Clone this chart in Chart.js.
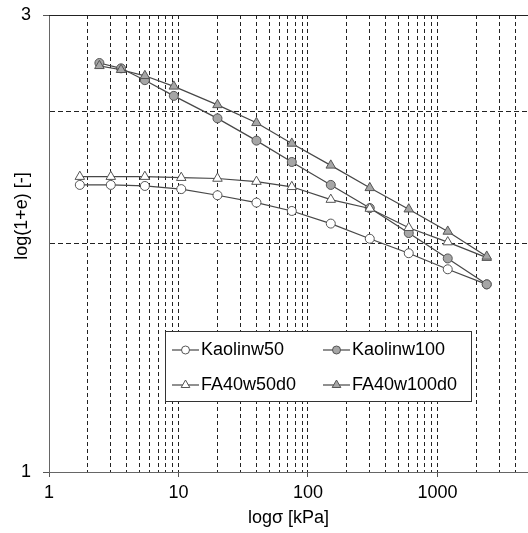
<!DOCTYPE html>
<html>
<head>
<meta charset="utf-8">
<script src="https://cdn.jsdelivr.net/npm/chart.js@4.4.1/dist/chart.umd.min.js"></script>
<style>
  html, body { margin: 0; padding: 0; background: #fff; }
  #wrap { position: relative; width: 528px; height: 533px; }
</style>
</head>
<body>
<div id="wrap"><canvas id="chart" width="528" height="533"></canvas></div>
<script>
const FONT = "'Liberation Sans', Arial, sans-serif";

// series names, in the legend order
const seriesNames = ["Kaolinw50", "Kaolinw100", "FA40w50d0", "FA40w100d0"];

// vertical stress [kPa]
const stressW50 = [1.73, 3, 5.5, 10.5, 20, 40, 75, 150, 300, 600, 1200, 2400];
const stressW100 = [2.45, 3.6, 5.5, 9.2, 20, 40, 75, 150, 300, 600, 1200, 2400];

// 1+e
const kaolinW50 = [1.994, 1.994, 1.989, 1.974, 1.945, 1.911, 1.873, 1.817, 1.752, 1.692, 1.628, 1.570];
const kaolinW100 = [2.673, 2.639, 2.565, 2.470, 2.340, 2.218, 2.107, 1.994, 1.886, 1.776, 1.671, 1.570];
const fa40W50 = [2.034, 2.034, 2.034, 2.029, 2.025, 2.010, 1.985, 1.925, 1.884, 1.799, 1.738, 1.674];
const fa40W100 = [2.655, 2.630, 2.592, 2.527, 2.417, 2.315, 2.203, 2.090, 1.980, 1.881, 1.783, 1.679];

// axis ticks
const xTickLabels = [1, 10, 100, 1000];
const yTickLabels = [1, 3];
const yGridValues = [1.732, 2.38];

const toPoints = (xs, ys) => xs.map((x, i) => ({ x, y: ys[i] }));

const styles = [
  { pointStyle: "circle", fill: "#ffffff", radius: 4.5 },
  { pointStyle: "circle", fill: "#a6a6a6", radius: 4.5 },
  { pointStyle: "triangle", fill: "#ffffff", radius: 5.5 },
  { pointStyle: "triangle", fill: "#a6a6a6", radius: 5.5 },
];
const seriesData = [
  toPoints(stressW50, kaolinW50),
  toPoints(stressW100, kaolinW100),
  toPoints(stressW50, fa40W50),
  toPoints(stressW100, fa40W100),
];

const datasets = seriesNames.map((name, i) => ({
  label: name,
  data: seriesData[i],
  order: seriesNames.length - i,
  borderColor: "#474747",
  borderWidth: 1.2,
  pointStyle: styles[i].pointStyle,
  pointRadius: styles[i].radius,
  pointHoverRadius: styles[i].radius,
  pointBackgroundColor: styles[i].fill,
  pointBorderColor: "#555555",
  pointBorderWidth: 1,
  tension: 0,
  fill: false,
}));

const xGridTicks = () => {
  const out = [];
  for (let d = 1; d <= 1000; d *= 10) {
    for (let k = 1; k <= 9; k++) {
      const v = k * d;
      if (v <= 5000) out.push({ value: v });
    }
  }
  return out;
};

const frameAndLegend = {
  id: "frameAndLegend",
  afterDraw(chart) {
    const { ctx, chartArea } = chart;
    ctx.save();
    // top frame line
    ctx.strokeStyle = "#222";
    ctx.lineWidth = 1;
    ctx.beginPath();
    ctx.moveTo(chartArea.left, chartArea.top + 0.5);
    ctx.lineTo(chartArea.right, chartArea.top + 0.5);
    ctx.stroke();

    // y axis title
    ctx.fillStyle = "#000";
    ctx.font = "18px " + FONT;
    ctx.textAlign = "center";
    ctx.textBaseline = "middle";
    ctx.save();
    ctx.translate(22, 216);
    ctx.rotate(-Math.PI / 2);
    ctx.fillText("log(1+e) [-]", 0, 0);
    ctx.restore();

    // legend box
    const box = { x: 165.5, y: 331.5, w: 306, h: 70 };
    ctx.fillStyle = "#fff";
    ctx.fillRect(box.x, box.y, box.w, box.h);
    ctx.strokeStyle = "#333";
    ctx.strokeRect(box.x, box.y, box.w, box.h);

    const cols = [172, 323];
    const rows = [350, 385];
    chart.data.datasets.forEach((ds, i) => {
      const cx = cols[i % 2];
      const cy = rows[Math.floor(i / 2)];
      ctx.strokeStyle = "#474747";
      ctx.lineWidth = 1.2;
      ctx.beginPath();
      ctx.moveTo(cx, cy);
      ctx.lineTo(cx + 27, cy);
      ctx.stroke();
      ctx.fillStyle = ds.pointBackgroundColor;
      ctx.strokeStyle = "#555";
      ctx.lineWidth = 1;
      Chart.helpers.drawPoint(ctx, {
        pointStyle: ds.pointStyle,
        radius: ds.pointStyle === "circle" ? 4 : 5,
        rotation: 0,
        borderWidth: 1,
      }, cx + 13.5, cy);
      ctx.fillStyle = "#000";
      ctx.font = "18px " + FONT;
      ctx.textAlign = "left";
      ctx.textBaseline = "middle";
      ctx.fillText(ds.label, cx + 29, cy);
    });
    ctx.restore();
  },
};

new Chart(document.getElementById("chart"), {
  type: "line",
  data: { datasets },
  plugins: [frameAndLegend],
  options: {
    responsive: false,
    animation: false,
    layout: { autoPadding: false, padding: { top: 15, right: 0, left: 0, bottom: 0 } },
    plugins: {
      legend: { display: false },
      tooltip: { enabled: false },
    },
    scales: {
      x: {
        type: "logarithmic",
        min: 1,
        max: 5000,
        afterBuildTicks: (scale) => { scale.ticks = xGridTicks(); },
        afterFit: (scale) => {
          scale.height = 61;
          scale.paddingLeft = 0;
          scale.paddingRight = 0;
        },
        ticks: {
          autoSkip: false,
          maxRotation: 0,
          padding: 5,
          color: "#000",
          font: { family: FONT, size: 18 },
          callback: (v) => (xTickLabels.includes(v) ? String(v) : ""),
        },
        grid: {
          color: (c) => (c.tick && c.tick.value === 1 ? "rgba(0,0,0,0)" : "#222"),
          lineWidth: 1,
          tickLength: 5,
          tickColor: (c) => (c.tick && xTickLabels.includes(c.tick.value) ? "#555" : "rgba(0,0,0,0)"),
        },
        border: { display: true, color: "#666", width: 1, dash: [4, 3] },
        title: {
          display: true,
          text: "logσ [kPa]",
          color: "#000",
          font: { family: FONT, size: 18 },
          padding: { top: 0, bottom: 4 },
        },
      },
      y: {
        type: "logarithmic",
        min: 1,
        max: 3,
        afterBuildTicks: (scale) => {
          scale.ticks = [1, ...yGridValues, 3].map((v) => ({ value: v }));
        },
        afterFit: (scale) => {
          scale.width = 49;
          scale.paddingTop = 0;
          scale.paddingBottom = 0;
        },
        ticks: {
          autoSkip: false,
          padding: 12,
          color: "#000",
          font: { family: FONT, size: 18 },
          callback: (v) => (yTickLabels.includes(v) ? String(v) : ""),
        },
        grid: {
          color: (c) => (c.tick && yGridValues.includes(c.tick.value) ? "#222" : "rgba(0,0,0,0)"),
          lineWidth: 1,
          tickLength: 6,
          tickColor: (c) => (c.tick && yTickLabels.includes(c.tick.value) ? "#555" : "rgba(0,0,0,0)"),
        },
        border: { display: true, color: "#666", width: 1, dash: [5, 3] },
      },
    },
  },
});
</script>
</body>
</html>
